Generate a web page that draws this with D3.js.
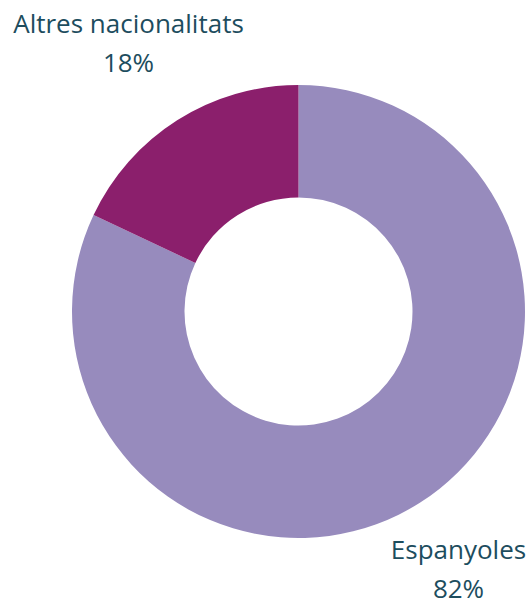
<!DOCTYPE html>
<html>
<head>
<meta charset="utf-8">
<script src="https://cdn.jsdelivr.net/npm/d3@7"></script>
<style>
  body { margin: 0; background: #fff; }
  svg text { font-family: "Open Sans", sans-serif; fill: #1d4d5e; }
</style>
</head>
<body>
<svg id="chart" width="531" height="600"></svg>
<script>
// Share of population by nationality.
const categories = ["Espanyoles", "Altres nacionalitats"];
const shares = [82, 18];
const sliceColors = ["#978bbd", "#8b1f6c"];

const svg = d3.select("#chart");
const cx = 298.5, cy = 311.5;
const outerR = 226.5, innerR = 114;

const data = categories.map((c, i) => ({ name: c, value: shares[i] }));

const pie = d3.pie().value(d => d.value).sort(null);
const arc = d3.arc().innerRadius(innerR).outerRadius(outerR);

const color = d3.scaleOrdinal().domain(categories).range(sliceColors);

const g = svg.append("g").attr("transform", `translate(${cx},${cy})`);
g.selectAll("path")
  .data(pie(data))
  .join("path")
  .attr("d", arc)
  .attr("fill", d => color(d.data.name));

// Labels sit outside the ring, two lines each.
const labelPos = {
  "Espanyoles": { x: 458.5, y: 559 },
  "Altres nacionalitats": { x: 128.5, y: 33 }
};

data.forEach(d => {
  const p = labelPos[d.name];
  const t = svg.append("text")
    .attr("text-anchor", "middle")
    .attr("font-size", 26)
    .attr("x", p.x)
    .attr("y", p.y);
  t.append("tspan").attr("x", p.x).text(d.name);
  t.append("tspan").attr("x", p.x).attr("dy", 39).text(d.value + "%");
});
</script>
</body>
</html>
